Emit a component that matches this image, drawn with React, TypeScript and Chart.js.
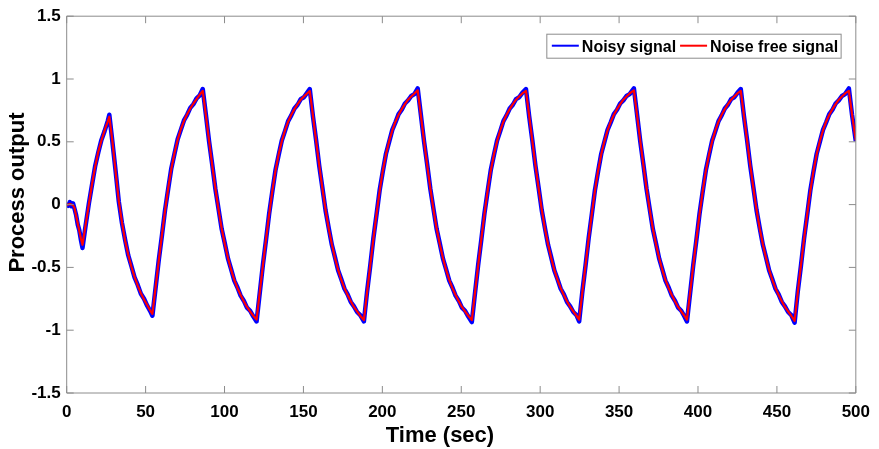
import React, { useEffect, useRef } from "react";
import { Chart, registerables } from "chart.js";

Chart.register(...registerables);

// time axis (seconds)
const timeSec: number[] = [
  0, 1, 2, 3, 4, 5, 6, 7, 8, 9, 10,
  12, 14, 16, 18, 20, 22, 24, 26, 27,
  29, 31, 33, 35, 37, 39, 41, 43, 45, 47, 49, 51, 53, 54.3,
  56.3, 58.3, 60.3, 62.3, 64.3, 66.3, 68.3, 70.3, 72.3, 74.3, 76.3, 78.3, 80.3, 82.3, 84.3, 86.2,
  88.2, 90.2, 92.2, 94.2, 96.2, 98.2, 100.2, 102.2, 104.2, 106.2, 108.2, 110.2, 112.2, 114.2, 116.2, 118.2, 120.3,
  122.3, 124.3, 126.3, 128.3, 130.3, 132.3, 134.3, 136.3, 138.3, 140.3, 142.3, 144.3, 146.3, 148.3, 150.3, 152.3, 154.0,
  156, 158, 160, 162, 164, 166, 168, 170, 172, 174, 176, 178, 180, 182, 184, 186, 188.3,
  190.3, 192.3, 194.3, 196.3, 198.3, 200.3, 202.3, 204.3, 206.3, 208.3, 210.3, 212.3, 214.3, 216.3, 218.3, 220.3, 222.4,
  224.4, 226.4, 228.4, 230.4, 232.4, 234.4, 236.4, 238.4, 240.4, 242.4, 244.4, 246.4, 248.4, 250.4, 252.4, 254.4, 256.7,
  258.7, 260.7, 262.7, 264.7, 266.7, 268.7, 270.7, 272.7, 274.7, 276.7, 278.7, 280.7, 282.7, 284.7, 286.7, 288.7, 291.0,
  293, 295, 297, 299, 301, 303, 305, 307, 309, 311, 313, 315, 317, 319, 321, 323, 324.7,
  326.7, 328.7, 330.7, 332.7, 334.7, 336.7, 338.7, 340.7, 342.7, 344.7, 346.7, 348.7, 350.7, 352.7, 354.7, 356.7, 359.4,
  361.4, 363.4, 365.4, 367.4, 369.4, 371.4, 373.4, 375.4, 377.4, 379.4, 381.4, 383.4, 385.4, 387.4, 389.4, 391.4, 393.0,
  395, 397, 399, 401, 403, 405, 407, 409, 411, 413, 415, 417, 419, 421, 423, 425, 427.1,
  429.1, 431.1, 433.1, 435.1, 437.1, 439.1, 441.1, 443.1, 445.1, 447.1, 449.1, 451.1, 453.1, 455.1, 457.1, 459.1, 461.2,
  463.2, 465.2, 467.2, 469.2, 471.2, 473.2, 475.2, 477.2, 479.2, 481.2, 483.2, 485.2, 487.2, 489.2, 491.2, 493.2, 495.6,
  497.6, 500,
];

// noise free process output
const noiseFreeSignal: number[] = [
  0, 0, 0.005, 0, -0.005, -0.03, -0.09, -0.15, -0.21, -0.27, -0.32,
  -0.16, 0.0, 0.16, 0.3, 0.42, 0.51, 0.59, 0.66, 0.7,
  0.5, 0.26, 0.03, -0.14, -0.285, -0.4, -0.495, -0.575, -0.645, -0.705, -0.755, -0.8, -0.845, -0.87,
  -0.66, -0.45, -0.245, -0.05, 0.13, 0.285, 0.41, 0.515, 0.6, 0.665, 0.72, 0.765, 0.805, 0.84, 0.875, 0.905,
  0.71, 0.51, 0.315, 0.13, -0.04, -0.19, -0.315, -0.425, -0.52, -0.6, -0.665, -0.72, -0.77, -0.815, -0.85, -0.885, -0.915,
  -0.7, -0.485, -0.275, -0.075, 0.11, 0.27, 0.4, 0.505, 0.59, 0.66, 0.715, 0.76, 0.8, 0.835, 0.86, 0.885, 0.905,
  0.71, 0.51, 0.315, 0.13, -0.04, -0.19, -0.315, -0.425, -0.52, -0.6, -0.665, -0.72, -0.77, -0.815, -0.85, -0.885, -0.92,
  -0.7, -0.485, -0.275, -0.075, 0.11, 0.27, 0.4, 0.505, 0.59, 0.66, 0.715, 0.76, 0.8, 0.835, 0.86, 0.885, 0.91,
  0.71, 0.51, 0.315, 0.13, -0.04, -0.19, -0.315, -0.425, -0.52, -0.6, -0.665, -0.72, -0.77, -0.815, -0.85, -0.885, -0.92,
  -0.7, -0.485, -0.275, -0.075, 0.11, 0.27, 0.4, 0.505, 0.59, 0.66, 0.715, 0.76, 0.8, 0.835, 0.86, 0.885, 0.905,
  0.71, 0.51, 0.315, 0.13, -0.04, -0.19, -0.315, -0.425, -0.52, -0.6, -0.665, -0.72, -0.77, -0.815, -0.85, -0.885, -0.915,
  -0.7, -0.485, -0.275, -0.075, 0.11, 0.27, 0.4, 0.505, 0.59, 0.66, 0.715, 0.76, 0.8, 0.835, 0.86, 0.885, 0.91,
  0.71, 0.51, 0.315, 0.13, -0.04, -0.19, -0.315, -0.425, -0.52, -0.6, -0.665, -0.72, -0.77, -0.815, -0.85, -0.885, -0.915,
  -0.7, -0.485, -0.275, -0.075, 0.11, 0.27, 0.4, 0.505, 0.59, 0.66, 0.715, 0.76, 0.8, 0.835, 0.86, 0.885, 0.905,
  0.71, 0.51, 0.315, 0.13, -0.04, -0.19, -0.315, -0.425, -0.52, -0.6, -0.665, -0.72, -0.77, -0.815, -0.85, -0.885, -0.925,
  -0.7, -0.485, -0.275, -0.075, 0.11, 0.27, 0.4, 0.505, 0.59, 0.66, 0.715, 0.76, 0.8, 0.835, 0.86, 0.885, 0.905,
  0.72, 0.51,
];

// noisy measured process output
const noisySignal: number[] = [
  0.015, -0.01, 0.02, -0.012, 0.01, -0.035, -0.085, -0.16, -0.205, -0.28, -0.345,
  -0.165, 0.005, 0.155, 0.305, 0.415, 0.515, 0.585, 0.665, 0.715,
  0.495, 0.265, 0.025, -0.145, -0.28, -0.405, -0.49, -0.58, -0.64, -0.71, -0.75, -0.805, -0.85, -0.885,
  -0.665, -0.445, -0.25, -0.045, 0.125, 0.29, 0.405, 0.52, 0.595, 0.67, 0.715, 0.77, 0.8, 0.845, 0.87, 0.92,
  0.715, 0.505, 0.32, 0.125, -0.035, -0.195, -0.31, -0.43, -0.515, -0.605, -0.66, -0.725, -0.765, -0.82, -0.845, -0.89, -0.93,
  -0.705, -0.48, -0.28, -0.07, 0.105, 0.275, 0.395, 0.51, 0.585, 0.665, 0.71, 0.765, 0.795, 0.84, 0.855, 0.89, 0.92,
  0.705, 0.515, 0.31, 0.135, -0.045, -0.185, -0.32, -0.42, -0.525, -0.595, -0.67, -0.715, -0.775, -0.81, -0.855, -0.88, -0.93,
  -0.695, -0.49, -0.27, -0.08, 0.115, 0.265, 0.405, 0.5, 0.595, 0.655, 0.72, 0.755, 0.805, 0.83, 0.865, 0.88, 0.925,
  0.715, 0.505, 0.32, 0.125, -0.035, -0.195, -0.31, -0.43, -0.515, -0.605, -0.66, -0.725, -0.765, -0.82, -0.845, -0.89, -0.935,
  -0.705, -0.48, -0.28, -0.07, 0.105, 0.275, 0.395, 0.51, 0.585, 0.665, 0.71, 0.765, 0.795, 0.84, 0.855, 0.89, 0.92,
  0.705, 0.515, 0.31, 0.135, -0.045, -0.185, -0.32, -0.42, -0.525, -0.595, -0.67, -0.715, -0.775, -0.81, -0.855, -0.88, -0.93,
  -0.695, -0.49, -0.27, -0.08, 0.115, 0.265, 0.405, 0.5, 0.595, 0.655, 0.72, 0.755, 0.805, 0.83, 0.865, 0.88, 0.925,
  0.715, 0.505, 0.32, 0.125, -0.035, -0.195, -0.31, -0.43, -0.515, -0.605, -0.66, -0.725, -0.765, -0.82, -0.845, -0.89, -0.93,
  -0.705, -0.48, -0.28, -0.07, 0.105, 0.275, 0.395, 0.51, 0.585, 0.665, 0.71, 0.765, 0.795, 0.84, 0.855, 0.89, 0.92,
  0.705, 0.515, 0.31, 0.135, -0.045, -0.185, -0.32, -0.42, -0.525, -0.595, -0.67, -0.715, -0.775, -0.81, -0.855, -0.88, -0.94,
  -0.695, -0.49, -0.27, -0.08, 0.115, 0.265, 0.405, 0.5, 0.595, 0.655, 0.72, 0.755, 0.805, 0.83, 0.865, 0.88, 0.925,
  0.715, 0.505,
];

const seriesLabels = ["Noisy signal", "Noise free signal"];
const seriesColors = ["#0000ff", "#ff0000"];
const xAxisTitle = "Time (sec)";
const yAxisTitle = "Process output";

const FONT = "'Liberation Sans', Arial, Helvetica, sans-serif";
const AXIS_GREY = "#8c8c8c";

const matlabAxes = {
  id: "matlabAxes",
  afterDraw(chart: any) {
    const { ctx, chartArea: a, scales } = chart;
    const xs = scales.x;
    const ys = scales.y;
    const tl = 7;
    ctx.save();
    ctx.strokeStyle = AXIS_GREY;
    ctx.lineWidth = 1;
    ctx.beginPath();
    ctx.rect(a.left, a.top, a.right - a.left, a.bottom - a.top);
    xs.ticks.forEach((t: any) => {
      const px = xs.getPixelForValue(t.value);
      ctx.moveTo(px, a.bottom);
      ctx.lineTo(px, a.bottom - tl);
      ctx.moveTo(px, a.top);
      ctx.lineTo(px, a.top + tl);
    });
    ys.ticks.forEach((t: any) => {
      const py = ys.getPixelForValue(t.value);
      ctx.moveTo(a.left, py);
      ctx.lineTo(a.left + tl, py);
      ctx.moveTo(a.right, py);
      ctx.lineTo(a.right - tl, py);
    });
    ctx.stroke();

    // axis titles
    ctx.fillStyle = "#000";
    ctx.font = `bold 22px ${FONT}`;
    ctx.textAlign = "center";
    ctx.textBaseline = "middle";
    ctx.fillText(xAxisTitle, a.left + (a.right - a.left) * 0.473, a.bottom + 43);
    ctx.save();
    ctx.translate(18, a.top + (a.bottom - a.top) * 0.468);
    ctx.rotate(-Math.PI / 2);
    ctx.fillText(yAxisTitle, 0, 0);
    ctx.restore();

    // legend box (top-right, inside axes)
    ctx.font = `bold 16px ${FONT}`;
    const padL = 5, lineLen = 27, gap = 3, itemGap = 4, padR = 3;
    const widths = chart.data.datasets.map((d: any) => ctx.measureText(d.label).width);
    const total = padL + padR + widths.reduce((s: number, w: number) => s + w + lineLen + gap, 0) + itemGap * (widths.length - 1);
    const boxH = 24;
    const boxR = a.right - 14.7;
    const boxL = boxR - total;
    const boxT = a.top + 18;
    ctx.fillStyle = "#ffffff";
    ctx.fillRect(boxL, boxT, total, boxH);
    ctx.strokeStyle = AXIS_GREY;
    ctx.lineWidth = 1;
    ctx.strokeRect(boxL, boxT, total, boxH);
    let x = boxL + padL;
    const cy = boxT + boxH / 2;
    chart.data.datasets.forEach((d: any, i: number) => {
      ctx.strokeStyle = d.borderColor;
      ctx.lineWidth = 2;
      ctx.beginPath();
      ctx.moveTo(x, cy - 0.5);
      ctx.lineTo(x + lineLen, cy - 0.5);
      ctx.stroke();
      x += lineLen + gap;
      ctx.fillStyle = "#000";
      ctx.textBaseline = "middle";
      ctx.textAlign = "left";
      ctx.fillText(d.label, x, cy + 1);
      x += widths[i] + itemGap;
    });
    ctx.restore();
  },
};

export default function App() {
  const ref = useRef<HTMLCanvasElement>(null);

  useEffect(() => {
    const canvas = ref.current;
    if (!canvas) return;
    const noisy = timeSec.map((t, i) => ({ x: t, y: noisySignal[i] }));
    const clean = timeSec.map((t, i) => ({ x: t, y: noiseFreeSignal[i] }));
    const chart = new Chart(canvas, {
      type: "line",
      data: {
        datasets: [
          {
            label: seriesLabels[0],
            data: noisy,
            borderColor: seriesColors[0],
            borderWidth: 4.5,
            borderJoinStyle: "round",
            pointRadius: 0,
            tension: 0,
            order: 2,
          },
          {
            label: seriesLabels[1],
            data: clean,
            borderColor: seriesColors[1],
            borderWidth: 2.2,
            borderJoinStyle: "round",
            pointRadius: 0,
            tension: 0,
            order: 1,
          },
        ],
      },
      options: {
        responsive: false,
        animation: false,
        devicePixelRatio: 1,
        parsing: false,
        layout: { padding: { left: 0, top: 14, right: 20.3, bottom: 0 } },
        plugins: { legend: { display: false }, tooltip: { enabled: false } },
        scales: {
          x: {
            type: "linear",
            min: 0,
            max: 500,
            grid: { display: false, drawTicks: false },
            border: { display: false },
            ticks: {
              stepSize: 50,
              autoSkip: false,
              maxRotation: 0,
              padding: 9,
              color: "#000",
              font: { family: FONT, size: 17, weight: "bold" },
            },
            afterFit: (s: any) => {
              s.height = 56;
            },
          },
          y: {
            type: "linear",
            min: -1.5,
            max: 1.5,
            grid: { display: false, drawTicks: false },
            border: { display: false },
            ticks: {
              stepSize: 0.5,
              padding: 6,
              color: "#000",
              font: { family: FONT, size: 17, weight: "bold" },
              callback: (v: any) => String(Math.round(Number(v) * 10) / 10),
            },
            afterFit: (s: any) => {
              s.width = 66.7;
            },
          },
        },
      },
      plugins: [matlabAxes],
    });
    return () => chart.destroy();
  }, []);

  return (
    <canvas
      ref={ref}
      width={879}
      height={449}
      style={{ position: "fixed", left: 0, top: 0, width: 879, height: 449, display: "block", background: "#fff" }}
    />
  );
}
